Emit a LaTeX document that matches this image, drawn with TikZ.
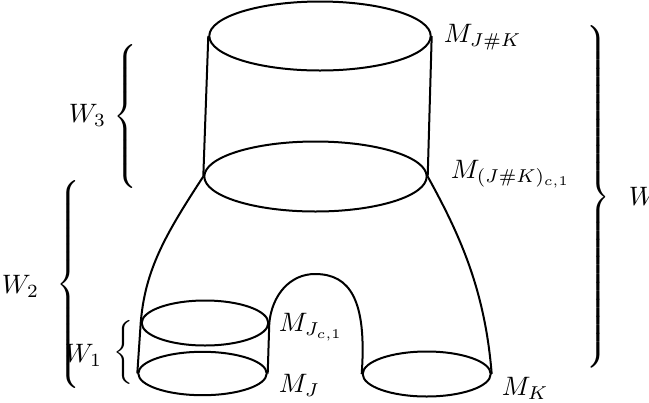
\documentclass[tikz,border=0pt]{standalone}
\usetikzlibrary{shapes.geometric}
\newcommand{\pxu}{0.375pt}
\newcommand{\bigbrace}[2]{$\delimitershortfall=0pt\delimiterfactor=1000
  \left#1\vcenter{\hbox{\rule{0pt}{#2}}}\right.$}
\newcommand{\bigbraceR}[2]{$\delimitershortfall=0pt\delimiterfactor=1000
  \left.\vcenter{\hbox{\rule{0pt}{#2}}}\right#1$}
\begin{document}
\begin{tikzpicture}[x=0.375pt,y=-0.375pt,line width=0.75pt,
  disk/.style={draw,ellipse,inner sep=0pt,line width=0.75pt},
  lab/.style={inner sep=0pt,anchor=base west},
  labr/.style={inner sep=0pt,anchor=base east},
  brc/.style={inner sep=0pt}]
\useasboundingbox (0,0) rectangle (649,402);
% discs (boundary components)
\node[disk,minimum width=221.4*\pxu,minimum height=69*\pxu] (top) at (320,36) {};
\node[disk,minimum width=222.4*\pxu,minimum height=70*\pxu] (mid) at (315.5,176.5) {};
\node[disk,minimum width=126.6*\pxu,minimum height=45*\pxu] (jc) at (205,323) {};
\node[disk,minimum width=128.4*\pxu,minimum height=43.4*\pxu] (j) at (202.5,373.5) {};
\node[disk,minimum width=128*\pxu,minimum height=45*\pxu] (k) at (426.7,374) {};
\coordinate (archtop) at (315,274);
% walls
\draw (top.west) -- (mid.west);
\draw (top.east) -- (mid.east);
\draw (jc.west) -- (j.west);
\draw (jc.east) -- (j.east);
\draw (mid.west) .. controls (165,235) and (145,270) .. (jc.west);
\draw (mid.east) .. controls (460,235) and (485,290) .. (k.east);
\draw (jc.east) .. controls (272,295) and (290,274) .. (archtop)
      .. controls (350,274) and (367,300) .. (k.west);
% labels
\node[lab] (lJK) at (443,42.5) {$M_{J\#K}$};
\node[lab] (lJKc) at (450,178) {$M_{(J\#K)_{c,1}}$};
\node[lab] (lJc) at (278,331.5) {$M_{J_{c,1}}$};
\node[lab] (lJ) at (278,392.5) {$M_J$};
\node[lab] (lK) at (501,395) {$M_K$};
% braces
\node[brc,anchor=west] (b3) at (113,116) {\bigbrace{\{}{53pt}};
\node[labr] (w3) at (107,122) {$W_3$};
\node[brc,anchor=west] (b2) at (55,284) {\bigbrace{\{}{75.5pt}};
\node[labr] (w2) at (40,293) {$W_2$};
\node[brc,anchor=west] (b1) at (113,352) {$\bigg\{$};
\node[labr] (w1) at (103,362) {$W_1$};
\node[brc,anchor=east] (bw) at (611,197) {\scalebox{1}[1.07]{\bigbraceR{\}}{120pt}}};
\node[lab] (w) at (628,205) {$W$};
\end{tikzpicture}
\end{document}
